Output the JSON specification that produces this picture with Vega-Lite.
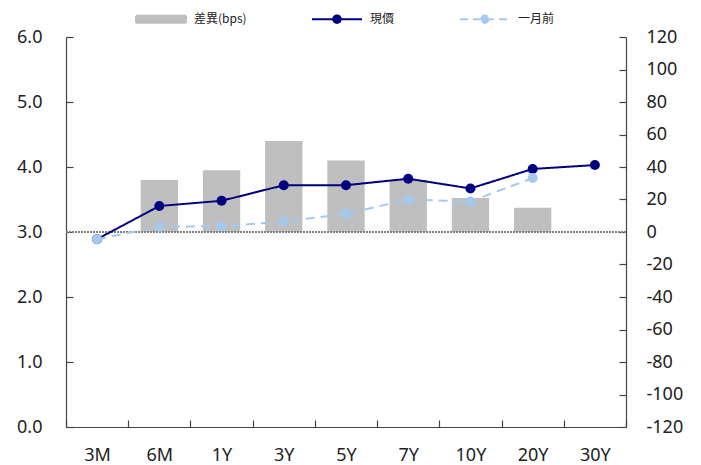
{
  "$schema": "https://vega.github.io/schema/vega-lite/v6.json",
  "width": 560,
  "height": 390,
  "autosize": {"type": "none"},
  "padding": {"left": 66, "top": 37, "right": 75, "bottom": 38},
  "background": "white",
  "config": {
    "view": {"stroke": null},
    "legend": {"title": null},
    "axis": {"labelFont": "Noto Sans", "labelFontSize": 18, "labelColor": "#222222", "domainColor": "#444444", "tickColor": "#444444", "grid": false, "title": null, "tickSize": -7, "domainWidth": 1.2, "tickWidth": 1.2},
    "axisX": {"labelAngle": 0, "tickBand": "extent", "labelPadding": 26}
  },
  "data": {"values": [
    {"tenor": "3M", "現價": 2.89, "一月前": 2.89, "diff": 0},
    {"tenor": "6M", "現價": 3.40, "一月前": 3.08, "diff": 32},
    {"tenor": "1Y", "現價": 3.48, "一月前": 3.09, "diff": 38},
    {"tenor": "3Y", "現價": 3.72, "一月前": 3.16, "diff": 56},
    {"tenor": "5Y", "現價": 3.72, "一月前": 3.28, "diff": 44},
    {"tenor": "7Y", "現價": 3.82, "一月前": 3.50, "diff": 32},
    {"tenor": "10Y", "現價": 3.67, "一月前": 3.47, "diff": 21},
    {"tenor": "20Y", "現價": 3.97, "一月前": 3.83, "diff": 15},
    {"tenor": "30Y", "現價": 4.03, "一月前": null, "diff": null}
  ]},
  "layer": [
    {
      "mark": {"type": "bar", "color": "#BFBFBF", "width": {"band": 0.6}},
      "encoding": {
        "x": {"field": "tenor", "type": "nominal", "sort": null, "scale": {"paddingInner": 0, "paddingOuter": 0}},
        "y": {"field": "diff", "type": "quantitative", "scale": {"domain": [-120, 120], "nice": false, "zero": false},
          "axis": {"orient": "right", "values": [-120,-100,-80,-60,-40,-20,0,20,40,60,80,100,120], "labelExpr": "toString(datum.value)", "labelPadding": 27}},
        "y2": {"datum": 0},
        "color": {"datum": "差異(bps)", "type": "nominal", "title": null,
          "scale": {"domain": ["差異(bps)", "現價", "一月前"], "range": ["#BFBFBF", "#000080", "#A6C8EE"]},
          "legend": {
            "orient": "none", "legendX": 69, "legendY": -44, "direction": "horizontal", "title": null,
            "symbolSize": 2500, "labelOffset": 7, "columnPadding": 61, "padding": 0,
            "labelFont": "Noto Sans CJK TC", "labelFontSize": 12, "labelColor": "#222222",
            "encode": {"symbols": {"update": {
              "shape": {"signal": "datum.value === '差異(bps)' ? 'M-1,-0.14H1V0.14H-1Z' : 'M-1,0H1M-0.15,0A0.15,0.15 0 1 1 0.15,0A0.15,0.15 0 1 1 -0.15,0Z'"},
              "fill": {"signal": "scale('color', datum.value)"},
              "stroke": {"signal": "datum.value === '差異(bps)' ? 'transparent' : scale('color', datum.value)"},
              "strokeDash": {"signal": "datum.value === '一月前' ? [8,5] : [1,0]"},
              "strokeWidth": {"value": 2},
              "opacity": {"value": 1}
            }}}
          }}
      }
    },
    {
      "encoding": {
        "y": {"type": "quantitative", "scale": {"domain": [0, 6], "nice": false},
          "axis": {"orient": "left", "values": [0,1,2,3,4,5,6], "format": ".1f", "labelPadding": 31}}
      },
      "layer": [
        {
          "mark": {"type": "rule", "color": "#808080", "strokeWidth": 2, "strokeDash": [2, 1]},
          "encoding": {"y": {"datum": 3}}
        },
        {
          "transform": [{"fold": ["現價", "一月前"], "as": ["series", "value"]}, {"filter": "datum.value != null"}],
          "encoding": {
            "x": {"field": "tenor", "type": "nominal", "sort": null},
            "y": {"field": "value", "type": "quantitative"},
            "color": {"field": "series", "type": "nominal", "title": null}
          },
          "layer": [
            {
              "mark": {"type": "line", "strokeWidth": 2},
              "encoding": {
                "strokeDash": {"field": "series", "type": "nominal", "scale": {"domain": ["現價", "一月前"], "range": [[1, 0], [9, 6]]}, "legend": null}
              }
            },
            {
              "mark": {"type": "circle", "size": 100, "opacity": 1}
            }
          ]
        }
      ]
    }
  ],
  "resolve": {"scale": {"y": "independent"}}
}
